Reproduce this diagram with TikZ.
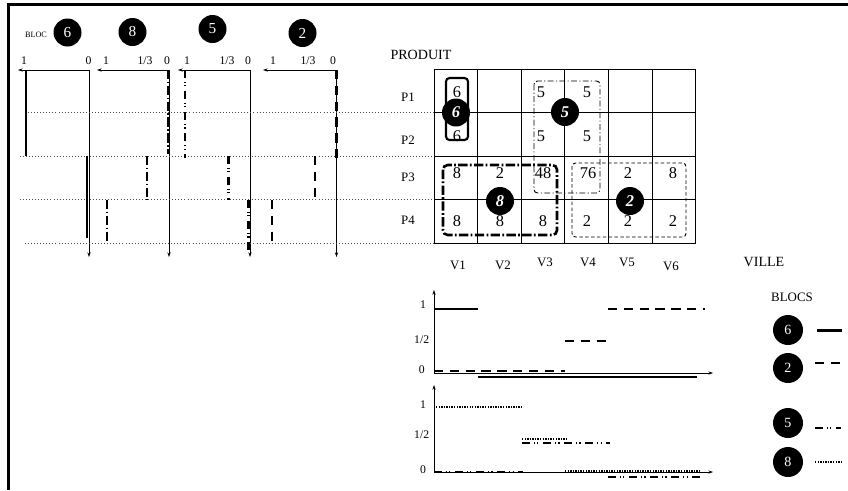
\documentclass[tikz,border=0pt]{standalone}
\usepackage{fontspec}
\setmainfont{Liberation Serif}
\usetikzlibrary{arrows.meta}
\tikzset{
	>={Stealth[length=4pt,width=2.8pt]},
	bloc/.style={circle,fill=black,text=white,inner sep=0pt,minimum size=0.84cm,font=\fontsize{13}{13}\selectfont},
	blocg/.style={bloc,font=\fontsize{14}{14}\selectfont\bfseries\itshape},
	blocl/.style={bloc,minimum size=0.9cm,font=\fontsize{12}{12}\selectfont},
	cell/.style={font=\fontsize{14}{14}\selectfont,inner sep=0pt},
	lab/.style={font=\fontsize{11}{11}\selectfont,inner sep=0pt},
	graduation/.style={font=\fontsize{10}{10}\selectfont,inner sep=0pt},
	axe/.style={line width=0.6pt,->},
	guide/.style={dotted,line width=0.6pt,black!70},
	plein/.style={line width=2pt},
	tiret/.style={line width=2pt,dash pattern=on 8pt off 5.5pt},
	tiretpt/.style={line width=2pt,dash pattern=on 7pt off 3pt on 1pt off 2pt on 1pt off 4pt},
	tiretpp/.style={line width=2.2pt,dash pattern=on 8pt off 2pt on 1.5pt off 2pt},
	points/.style={line width=1.5pt,dash pattern=on 1.2pt off 1pt}
}
\begin{document}
\begin{tikzpicture}[x=0.03cm,y=-0.03cm]
		\useasboundingbox (0,0) rectangle (848,490);
		\draw[line width=2.3pt] (8.7,490) -- (8.7,4.5) -- (848,4.5);

		\node[font=\fontsize{7}{7}\selectfont,inner sep=0pt] (bloc) at (36,35) {BLOC};
		\node[bloc] (t6) at (67.5,32.5) {6};
		\node[bloc] (t8) at (132.5,32) {8};
		\node[bloc] (t5) at (212.5,29) {5};
		\node[bloc] (t2) at (302.5,33) {2};

		\coordinate (h1) at (89,70); \coordinate (g1) at (18,70); \coordinate (b1) at (89,257);
		\coordinate (h2) at (169,70); \coordinate (g2) at (97,70); \coordinate (b2) at (169,257);
		\coordinate (h3) at (250,70); \coordinate (g3) at (178,70); \coordinate (b3) at (250,257);
		\coordinate (h4) at (336.5,70); \coordinate (g4) at (263,70); \coordinate (b4) at (336.5,257);
		\draw[axe] (h1) to (g1); \draw[axe] (h1) to (b1);
		\draw[axe] (h2) to (g2); \draw[axe] (h2) to (b2);
		\draw[axe] (h3) to (g3); \draw[axe] (h3) to (b3);
		\draw[axe] (h4) to (g4); \draw[axe] (h4) to (b4);

		\node[graduation] (a1un) at (24,61) {1}; \node[graduation] (a1zero) at (88.5,61) {0};
		\node[graduation] (a2un) at (106,61) {1}; \node[graduation] (a2tiers) at (145,61) {1/3}; \node[graduation] (a2zero) at (167,61) {0};
		\node[graduation] (a3un) at (187,61) {1}; \node[graduation] (a3tiers) at (227,61) {1/3}; \node[graduation] (a3zero) at (248,61) {0};
		\node[graduation] (a4un) at (273,61) {1}; \node[graduation] (a4tiers) at (308,61) {1/3}; \node[graduation] (a4zero) at (333,61) {0};

		\draw[guide] (25,112.5) -- (434,112.5);
		\draw[guide] (20,156) -- (434,156);
		\draw[guide] (20,199.5) -- (434,199.5);
		\draw[guide] (25,243) -- (434,243);

		\draw[plein] (26,70) -- (26,156); \draw[plein] (87,156) -- (87,238);
		\draw[tiretpp] (168,70) -- (168,154); \draw[tiretpp] (147,156) -- (147,200); \draw[tiretpp] (107,200) -- (107,243);
		\draw[tiretpt] (185,70) -- (185,158); \draw[tiretpt] (228.5,156) -- (228.5,200); \draw[tiretpt] (248.5,200) -- (248.5,250);
		\draw[tiret] (336.5,70) -- (336.5,160); \draw[tiret] (315,156) -- (315,200); \draw[tiret] (272,200) -- (272,243);

		\node[font=\fontsize{12}{12}\selectfont,inner sep=0pt] (produit) at (421,54.5) {PRODUIT};
		\node[lab] (p1) at (408,97) {P1};
		\node[lab] (p2) at (408,140) {P2};
		\node[lab] (p3) at (408,177) {P3};
		\node[lab] (p4) at (408,220) {P4};

		\foreach \i in {0,...,6} \draw[line width=0.7pt] ({434+43.6*\i},69) -- ({434+43.6*\i},243);
		\foreach \j in {0,...,4} \draw[line width=0.7pt] (434,{69+43.5*\j}) -- (695.6,{69+43.5*\j});

		\node[lab] (v1) at (458,265) {V1};
		\node[lab] (v2) at (503,265) {V2};
		\node[lab] (v3) at (545,262) {V3};
		\node[lab] (v4) at (588,262) {V4};
		\node[lab] (v5) at (627,262) {V5};
		\node[lab] (v6) at (671,266) {V6};

		\node[cell] (c11) at (457,92) {6}; \node[cell] (c13) at (541,92) {5}; \node[cell] (c14) at (587,92) {5};
		\node[cell] (c21) at (457,136) {6}; \node[cell] (c23) at (541,136) {5}; \node[cell] (c24) at (587,136) {5};
		\node[cell] (c31) at (457,173) {8}; \node[cell] (c32) at (500,173) {2}; \node[cell] (c33) at (543,173) {48};
		\node[cell] (c34) at (588,173) {76}; \node[cell] (c35) at (628,173) {2}; \node[cell] (c36) at (673,173) {8};
		\node[cell] (c41) at (457,221) {8}; \node[cell] (c42) at (500,221) {8}; \node[cell] (c43) at (543,221) {8};
		\node[cell] (c44) at (587,221) {2}; \node[cell] (c45) at (628,221) {2}; \node[cell] (c46) at (673,221) {2};

		\draw[line width=1.8pt,rounded corners=3pt] (446,78) rectangle (468,140);
		\draw[line width=0.8pt,rounded corners=3pt,dash pattern=on 5pt off 2pt on 1pt off 2pt] (534,81) rectangle (600,193);
		\draw[tiretpp,rounded corners=4pt] (443,165) rectangle (557,235);
		\draw[line width=0.8pt,rounded corners=3pt,dash pattern=on 3pt off 2pt] (572,163) rectangle (686,237);

		\node[blocg] (g6) at (456,112.5) {6};
		\node[blocg] (g5) at (565,112) {5};
		\node[blocg] (g8) at (500,201) {8};
		\node[blocg] (g2) at (630,201) {2};

		\coordinate (o1) at (434,373); \coordinate (y1) at (434,290); \coordinate (x1) at (713,373);
		\draw[axe] (o1) to (y1); \draw[axe] (o1) to (x1);
		\node[graduation] (u1) at (423,305) {1};
		\node[graduation] (d1) at (421.7,340) {1/2};
		\node[graduation] (z1) at (421.7,370) {0};
		\draw[plein] (434,309) -- (478,309); \draw[line width=2.5pt] (478,377) -- (697,377);
		\draw[tiret] (434,371) -- (565,371); \draw[tiret] (565,341) -- (608,341); \draw[tiret] (608,309) -- (705,309);

		\coordinate (o2) at (434,472); \coordinate (y2) at (434,385); \coordinate (x2) at (713,472);
		\draw[axe] (o2) to (y2); \draw[axe] (o2) to (x2);
		\node[graduation] (u2) at (423,405) {1};
		\node[graduation] (d2) at (421.7,435) {1/2};
		\node[graduation] (z2) at (423,470) {0};
		\draw[points] (436,407) -- (523,407); \draw[points] (522,439) -- (567,439); \draw[points] (565,471) -- (700,471);
		\draw[tiretpt] (434,472) -- (523,472); \draw[tiretpt] (522,443) -- (610,443); \draw[tiretpt] (608,477) -- (700,477);

		\node[font=\fontsize{12}{12}\selectfont,inner sep=0pt] (ville) at (764,262) {VILLE};
		\node[lab] (blocs) at (792,297) {BLOCS};
		\node[blocl] (l6) at (788,330) {6};
		\node[blocl] (l2) at (788,368) {2};
		\node[blocl] (l5) at (788,423) {5};
		\node[blocl] (l8) at (788,462) {8};
		\draw[plein] (817,330.5) -- (842,330.5);
		\draw[tiret] (815,363) -- (841,363);
		\draw[tiretpt] (815,428) -- (841,428);
		\draw[points] (815,462) -- (841,462);
\end{tikzpicture}
\end{document}
